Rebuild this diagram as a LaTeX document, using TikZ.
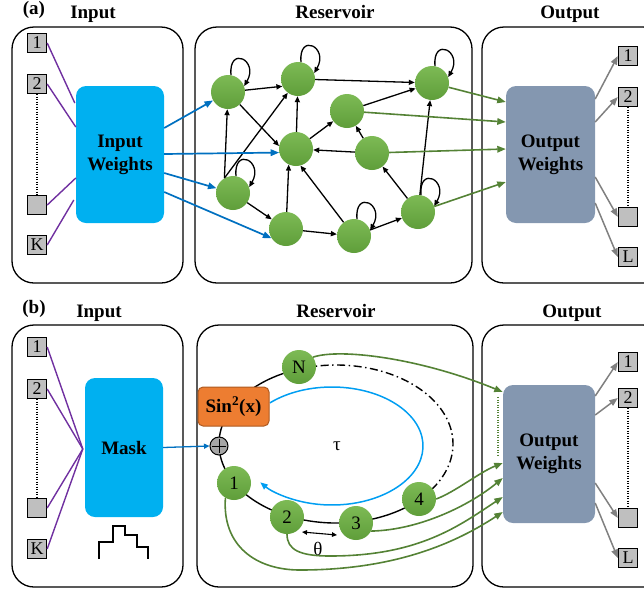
\documentclass[tikz,border=0pt]{standalone}
\usepackage{fontspec}
\setmainfont{Liberation Serif}
\usetikzlibrary{arrows.meta,calc}
\definecolor{cyanw}{HTML}{00B0F0}
\definecolor{slate}{HTML}{8497B0}
\definecolor{orng}{HTML}{ED7D31}
\definecolor{orngd}{HTML}{AE5A21}
\definecolor{gnodel}{HTML}{7DBA55}
\definecolor{gnoded}{HTML}{5F9E3A}
\definecolor{greenA}{HTML}{548235}
\definecolor{blueA}{HTML}{0070C0}
\definecolor{purp}{HTML}{7030A0}
\definecolor{sqgray}{HTML}{BFBFBF}
\definecolor{grayA}{HTML}{808080}
\definecolor{plusgray}{HTML}{A6A6A6}
\begin{document}
\begin{tikzpicture}[x=1pt,y=1pt,
  panel/.style={draw=black,line width=1.3pt,rounded corners=22pt},
  ttl/.style={font=\fontsize{19}{22}\selectfont\bfseries,inner sep=0pt,anchor=base},
  sq/.style={draw=black,line width=0.9pt,fill=sqgray,minimum size=19.5pt,inner sep=0pt,font=\fontsize{18}{18}\selectfont},
  wbox/.style={rounded corners=10pt,inner sep=0pt,align=center,font=\fontsize{19}{23}\selectfont\bfseries},
  rnode/.style={circle,minimum size=34pt,inner sep=0pt,top color=gnodel,bottom color=gnoded,draw=none},
  bnode/.style={rnode,font=\fontsize{19}{19}\selectfont},
  rarrow/.style={line width=1.3pt,-{Triangle[length=6pt,width=5pt]}},
  bluearr/.style={draw=blueA,line width=1.7pt,-{Triangle[length=8.5pt,width=6.5pt]}},
  greenarr/.style={draw=greenA,line width=1.6pt,-{Triangle[length=8.5pt,width=6.5pt]}},
  grayarr/.style={draw=grayA,line width=1.5pt,-{Triangle[length=8.5pt,width=6.5pt]}},
  purpline/.style={draw=purp,line width=1.4pt},
  dotv/.style={line width=1.2pt,dash pattern=on 1.2pt off 1.3pt},
]
\useasboundingbox (0,0) rectangle (644,-592);
\clip (0,0) rectangle (644,-592);

% ================= (a) =================
\node[ttl] (la) at (34,-14) {(a)};
\node[ttl] (tin) at (93,-18) {Input};
\node[ttl] (tres) at (335,-18) {Reservoir};
\node[ttl] (tout) at (570,-18) {Output};

\draw[panel] (12,-27) rectangle (183,-283);
\draw[panel] (195,-27) rectangle (472,-283);
\draw[panel] (482,-27) rectangle (665,-283);

\node[wbox,fill=cyanw,minimum width=88pt,minimum height=137pt] (IW) at (120,-154.5) {Input\\Weights};
\node[wbox,fill=slate,minimum width=89pt,minimum height=137pt] (OWa) at (550.5,-154.5) {Output\\Weights};

\node[sq] (ia1) at (37,-43) {1};
\node[sq] (ia2) at (37,-84) {2};
\node[sq] (ia3) at (37,-205) {};
\node[sq] (iaK) at (37,-245) {K};
\draw[dotv] (ia2.south) -- (ia3.north);

\node[sq] (oa1) at (628,-56) {1};
\node[sq] (oa2) at (628,-97) {2};
\node[sq] (oa3) at (628,-217) {};
\node[sq] (oaL) at (628,-257) {L};
\draw[dotv] (oa2.south) -- (oa3.north);

\draw[purpline] (ia1.east) -- ([xshift=-1pt,yshift=51.5pt]IW.west);
\draw[purpline] (ia2.east) -- ([yshift=27.5pt]IW.west);
\draw[purpline] (ia3.east) -- ([yshift=-23.5pt]IW.west);
\draw[purpline] (iaK.east) -- ([xshift=-2pt,yshift=-45.5pt]IW.west);

% reservoir nodes
\node[rnode] (a1) at (228,-92) {};
\node[rnode] (a2) at (298,-79) {};
\node[rnode] (a3) at (432,-83) {};
\node[rnode] (a4) at (347,-111) {};
\node[rnode] (a5) at (296,-149) {};
\node[rnode] (a6) at (372,-153) {};
\node[rnode] (a7) at (233,-193) {};
\node[rnode] (a8) at (286,-229) {};
\node[rnode] (a9) at (354,-236) {};
\node[rnode] (a10) at (418,-212) {};

\foreach \n in {a1,a2,a3,a7,a9,a10}
  \draw[rarrow] (\n.80) .. controls +(95:30) and +(60:30) .. (\n.20);

\draw[rarrow] (a1) -- (a2.205);
\draw[rarrow] (a2) -- (a3);
\draw[rarrow] (a1) -- (a5.170);
\draw[rarrow] (a7.120) -- (a1);
\draw[rarrow] (a7.120) -- (a2);
\draw[rarrow] (a5) -- (a2);
\draw[rarrow] (a5) -- (a4);
\draw[rarrow] (a4) -- (a3);
\draw[rarrow] (a6) -- (a5);
\draw[rarrow] (a6) -- (a4);
\draw[rarrow] (a7) -- (a8);
\draw[rarrow] (a8) -- (a5.245);
\draw[rarrow] (a8) -- (a9);
\draw[rarrow] (a9) -- (a5.285);
\draw[rarrow] (a9) -- (a10);
\draw[rarrow] (a10) -- (a6);
\draw[rarrow] (a10) -- (a3);

\draw[bluearr] ([yshift=26.5pt]IW.east) -- (a1);
\draw[bluearr] ([yshift=0.5pt]IW.east) -- (a5.192);
\draw[bluearr] ([yshift=-18.5pt]IW.east) -- (a7);
\draw[bluearr] ([yshift=-37.5pt]IW.east) -- (a8.212);

\draw[greenarr] (a3) -- ([yshift=52.5pt]OWa.west);
\draw[greenarr] (a4) -- ([yshift=32.5pt]OWa.west);
\draw[greenarr] (a6) -- ([yshift=5.5pt]OWa.west);
\draw[greenarr] (a10) -- ([yshift=-27.5pt]OWa.west);

\draw[grayarr] ([yshift=55.5pt]OWa.east) -- (oa1.west);
\draw[grayarr] ([yshift=32.5pt]OWa.east) -- (oa2.west);
\draw[grayarr] ([yshift=-22.5pt]OWa.east) -- (oa3.west);
\draw[grayarr] ([yshift=-48.5pt]OWa.east) -- (oaL.west);

% ================= (b) =================
\node[ttl] (lb) at (34,-313.5) {(b)};
\node[ttl] (tin2) at (99,-317) {Input};
\node[ttl] (tres2) at (336,-317) {Reservoir};
\node[ttl] (tout2) at (572,-317) {Output};

\draw[panel] (12,-325) rectangle (183,-587);
\draw[panel] (197,-325) rectangle (473,-587);
\draw[panel] (482,-325) rectangle (665,-587);

\node[wbox,fill=cyanw,minimum width=78pt,minimum height=139pt] (Mask) at (124,-447.5) {Mask};
\node[wbox,fill=slate,minimum width=92pt,minimum height=138pt] (OWb) at (549,-454) {Output\\Weights};

\node[sq] (ib1) at (37,-347) {1};
\node[sq] (ib2) at (37,-389) {2};
\node[sq] (ib3) at (37,-508) {};
\node[sq] (ibK) at (37,-549) {K};
\draw[dotv] (ib2.south) -- (ib3.north);

\node[sq] (ob1) at (628,-362) {1};
\node[sq] (ob2) at (628,-398) {2};
\node[sq] (ob3) at (628,-518) {};
\node[sq] (obL) at (628,-558) {L};
\draw[dotv] (ob2.south) -- (ob3.north);

\coordinate (mk) at ([xshift=-2pt,yshift=-1.5pt]Mask.west);
\foreach \s in {ib1,ib2,ib3,ibK}
  \draw[purpline] (\s.east) -- (mk);

\draw[line width=1.3pt] (99,-559) -- (99,-542) -- (113,-542) -- (113,-526) -- (125,-526) -- (125,-535) -- (137,-535) -- (137,-547) -- (148,-547) -- (148,-559);

% ring
\draw[line width=1.4pt] ($(336,-444)+(108:117 and 79)$) arc[start angle=108,end angle=315,x radius=117,y radius=79];
\draw[line width=1.4pt,dash pattern=on 8pt off 3.5pt on 1.5pt off 3.5pt] ($(336,-444)+(315:117 and 79)$) arc[start angle=315,end angle=468,x radius=117,y radius=79];

% tau loop
\draw[draw=cyanw!90!blue,line width=1.5pt,-{Triangle[length=7.5pt,width=6pt]}] ($(332,-446)+(133:91 and 59)$) arc[start angle=133,end angle=-142,x radius=91,y radius=59];
\node[font=\fontsize{19}{19}\selectfont] (tau) at (337,-446) {τ};

\node[draw=orngd,fill=orng,line width=1pt,rounded corners=5pt,minimum width=71pt,minimum height=39pt,inner sep=0pt,font=\fontsize{19}{19}\selectfont\bfseries] (sin) at (233.5,-406.5) {Sin\textsuperscript{2}(x)};

\node[circle,draw=black,fill=plusgray,line width=1pt,minimum size=18pt,inner sep=0pt] (plus) at (219,-446) {};
\draw[line width=0.9pt] ([yshift=-2.5pt]plus.north) -- ([yshift=2.5pt]plus.south);
\draw[line width=0.9pt] ([xshift=2.5pt]plus.west) -- ([xshift=-2.5pt]plus.east);

\draw[draw=blueA,line width=1.3pt,-{Triangle[length=5.5pt,width=5pt]}] (Mask.east) -- (plus.west);

\node[bnode] (bN) at (299,-367) {N};
\node[bnode] (b1) at (234,-483) {1};
\node[bnode] (b2) at (287,-517) {2};
\node[bnode] (b3) at (356,-523) {3};
\node[bnode] (b4) at (419,-499) {4};

\coordinate (th1) at (302,-532);
\coordinate (th2) at (337,-535);
\draw[line width=1.1pt,{Triangle[length=5pt,width=4.5pt]}-{Triangle[length=5pt,width=4.5pt]}] (th1) -- (th2);
\node[font=\fontsize{19}{19}\selectfont] (theta) at (318,-549) {θ};

% green curves
\draw[greenarr] (bN.35) .. controls (340,-348) and (420,-358) .. ([yshift=62pt]OWb.west);
\draw[greenarr] (b4.east) .. controls (455,-492) and (480,-472) .. ([yshift=-9pt]OWb.west);
\draw[greenarr] (b3.332) .. controls (420,-530) and (470,-505) .. ([yshift=-24pt]OWb.west);
\draw[greenarr] (b2.south) .. controls (287,-550) and (300,-556) .. (330,-556) .. controls (420,-556) and (460,-525) .. ([yshift=-43pt]OWb.west);
\draw[greenarr] (b1.240) .. controls (222,-545) and (255,-570) .. (300,-570) .. controls (400,-570) and (460,-540) .. ([yshift=-58pt]OWb.west);
\draw[dotv,draw=greenA] (498,-397) -- (498,-455);

\draw[grayarr] ([yshift=58pt]OWb.east) -- (ob1.west);
\draw[grayarr] ([yshift=39pt]OWb.east) -- (ob2.west);
\draw[grayarr] ([yshift=-29pt]OWb.east) -- (ob3.west);
\draw[grayarr] ([yshift=-49pt]OWb.east) -- (obL.west);
\end{tikzpicture}
\end{document}
